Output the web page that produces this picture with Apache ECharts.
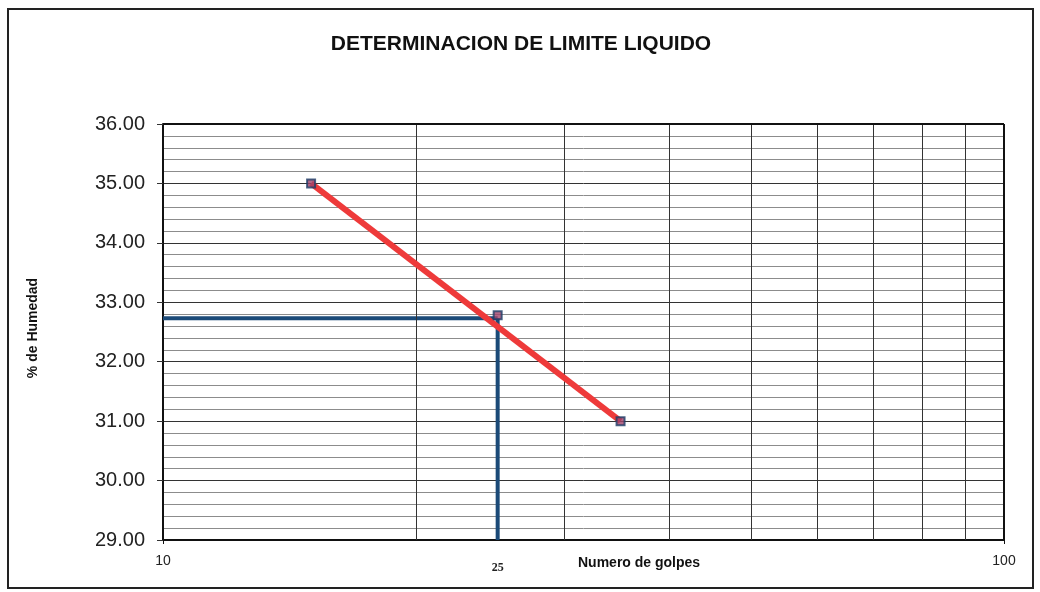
<!DOCTYPE html>
<html>
<head>
<meta charset="utf-8">
<script src="https://cdn.jsdelivr.net/npm/echarts@6/dist/echarts.min.js"></script>
<style>
  html, body { margin: 0; padding: 0; background: #fff; }
  #chart { width: 1040px; height: 592px; }
</style>
</head>
<body>
<div id="chart"></div>
<script>
// Liquid limit test: number of blows vs moisture content
const golpes = [15, 25, 35];
const humedad = [35.0, 32.78, 31.0];
// Flow line endpoints (first and last test points)
const flowX = [15, 35];
const flowY = [35.0, 31.0];
// Liquid limit read at 25 blows
const llGolpes = 25;
const llValor = 32.73;
const xMin = 10, xMax = 100;
const yMin = 29, yMax = 36;
const xGridValues = [20, 30, 40, 50, 60, 70, 80, 90];

const chart = echarts.init(document.getElementById('chart'));

const navy = '#1b4a78';

chart.setOption({
  animation: false,
  backgroundColor: '#ffffff',
  title: {
    text: 'DETERMINACION DE LIMITE LIQUIDO',
    left: 516, top: 29, textAlign: 'center',
    textStyle: { fontFamily: 'Liberation Sans, Arial', fontSize: 21, fontWeight: 'bold', color: '#111' }
  },
  graphic: [
    { type: 'rect', shape: { x: 8, y: 9, width: 1025, height: 579 }, style: { fill: 'none', stroke: '#222', lineWidth: 2 }, silent: true },
    { type: 'text', left: 578, top: 556, style: { text: 'Numero de golpes', font: 'bold 14px Liberation Sans, Arial', fill: '#111' } },
    { type: 'text', x: 33, y: 328, rotation: Math.PI / 2, style: { text: '% de Humedad', font: 'bold 14px Liberation Sans, Arial', fill: '#111', align: 'center', verticalAlign: 'middle' } }
  ],
  grid: { left: 163, right: 36, top: 124, bottom: 52, show: false },
  xAxis: {
    type: 'log', logBase: 10, min: xMin, max: xMax,
    axisLine: { show: true, lineStyle: { color: '#111', width: 2 } },
    axisTick: { show: true, length: 4, lineStyle: { color: '#111' } },
    axisLabel: { color: '#222', fontFamily: 'Liberation Sans, Arial', fontSize: 14, margin: 14 },
    splitLine: { show: false },
    minorTick: { show: false },
    minorSplitLine: { show: false }
  },
  yAxis: {
    type: 'value', min: yMin, max: yMax, interval: 1,
    axisLine: { show: true, onZero: false, lineStyle: { color: '#111', width: 2 } },
    axisTick: { show: true, length: 6, lineStyle: { color: '#333' } },
    axisLabel: { color: '#222', fontFamily: 'Liberation Sans, Arial', fontSize: 20, margin: 18, formatter: v => v.toFixed(2) },
    splitLine: { show: true, lineStyle: { color: '#333', width: 1 } },
    minorTick: { show: false, splitNumber: 5 },
    minorSplitLine: { show: true, lineStyle: { color: '#8c8c8c', width: 1 } }
  },
  series: [
    {
      // vertical log grid lines and the plot frame
      type: 'line', data: [], silent: true,
      markLine: {
        silent: true, symbol: 'none', label: { show: false },
        lineStyle: { color: '#333', width: 1, type: 'solid' },
        data: xGridValues.map(v => ({ xAxis: v })).concat([{ xAxis: xMax, lineStyle: { color: '#111', width: 2 } }, { yAxis: yMax, lineStyle: { color: '#111', width: 2 } }])
      }
    },
    {
      // horizontal reading at the liquid limit
      type: 'line', symbol: 'none', silent: true,
      lineStyle: { color: navy, width: 4 },
      data: [[xMin, llValor], [llGolpes, llValor]], z: 4
    },
    {
      // vertical line at 25 blows, labelled under the axis
      type: 'line', symbol: 'circle', symbolSize: 0, showSymbol: true, silent: true,
      lineStyle: { color: navy, width: 4 },
      itemStyle: { color: navy },
      data: [
        [llGolpes, llValor],
        { value: [llGolpes, yMin], label: { show: true, position: 'bottom', distance: 22, formatter: String(llGolpes), fontFamily: 'Liberation Serif, Times New Roman', fontWeight: 'bold', fontSize: 12, color: '#222' } }
      ],
      z: 4
    },
    {
      type: 'line', symbol: 'none', silent: true,
      lineStyle: { color: '#ee3a3a', width: 6 },
      data: flowX.map((x, i) => [x, flowY[i]]), z: 5
    },
    {
      type: 'scatter', symbol: 'rect', symbolSize: 8,
      itemStyle: { color: '#a0426a', borderColor: '#1d3c66', borderWidth: 2 },
      data: golpes.map((x, i) => [x, humedad[i]]), z: 6
    }
  ]
});
</script>
</body>
</html>
